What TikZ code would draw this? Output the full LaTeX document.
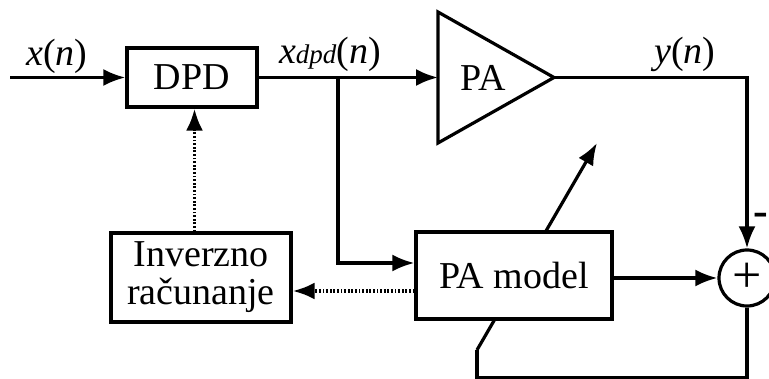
\documentclass[tikz,border=0pt]{standalone}
\usepackage{fontspec}
\setmainfont{Liberation Serif}
\usetikzlibrary{arrows.meta,backgrounds}
\begin{document}
\begin{tikzpicture}[x=1pt,y=-1pt,
  line width=3.2pt,
  every node/.style={font=\fontsize{38}{38}\selectfont, inner sep=0pt},
  blockbox/.style 2 args={draw, fill=white, minimum width=#1pt, minimum height=#2pt, align=center},
  sumnode/.style={draw, circle, fill=white, minimum size=56pt, font=\fontsize{52}{52}\selectfont},
  lbl/.style={anchor=base},
  arr/.style={-{Latex[length=22pt,width=17pt]}},
  dotline/.style={line width=3.6pt, dash pattern=on 1.8pt off 1.8pt},
]
\useasboundingbox (0,0) rectangle (769,379);

% blocks
\node[blockbox={130}{59}] (dpd) at (192,77.5) {DPD};
\node[blockbox={180}{89}] (inv) at (201,277.5) {Inverzno\\računanje};
\node[sumnode] (sum) at (747,278) {+};

% PA triangle
\coordinate (pain) at (438,77.5);
\coordinate (patop) at (438,12);
\coordinate (pabot) at (438,143);
\coordinate (paout) at (554,77.5);
\draw[line join=miter] (patop) -- (paout) -- (pabot) -- cycle;
\node[lbl] (patext) at (483.5,90.5) {PA};

% adaptation line passing behind PA model
\coordinate (fbA) at (477,350);
\coordinate (fbTip) at (597,143);
\draw[arr] (fbA) -- (fbTip);

\node[blockbox={196}{87}] (pam) at (514,275.5) {PA model};

% labels
\node[lbl] (xn) at (57,66) {\textit{x}(\textit{n})};
\node[lbl] (xd) at (330,64) {\textit{x}{\fontsize{27}{27}\selectfont\textit{dpd}}(\textit{n})};
\node[lbl] (yn) at (685,64) {\textit{y}(\textit{n})};
\node (minus) at (761,219) {\fontsize{44}{44}\selectfont\textbf{-}};

% connectors
\coordinate (in) at (10,77.5);
\coordinate (br) at (338,77.5);
\coordinate (corner) at (747,77.5);
\coordinate (fbB) at (747,377.5);
\coordinate (fbC) at (477,377.5);

\draw[arr] (in) -- (dpd.west);
\draw[arr] (dpd.east) -- (pain);
\draw[arr] (br) |- (pam.west |- 0,263);
\draw[arr] (paout) -- (corner) -- (sum.north);
\draw[arr] (pam.east |- sum.west) -- (sum.west);
\draw (sum.south) -- (fbB) -- (fbC) -- (fbA);
\draw[dotline, arr] (inv.north -| 194.5,0) -- (dpd.south -| 194.5,0);
\draw[dotline, arr] (pam.west |- 0,291) -- (inv.east |- 0,291);
\end{tikzpicture}
\end{document}
